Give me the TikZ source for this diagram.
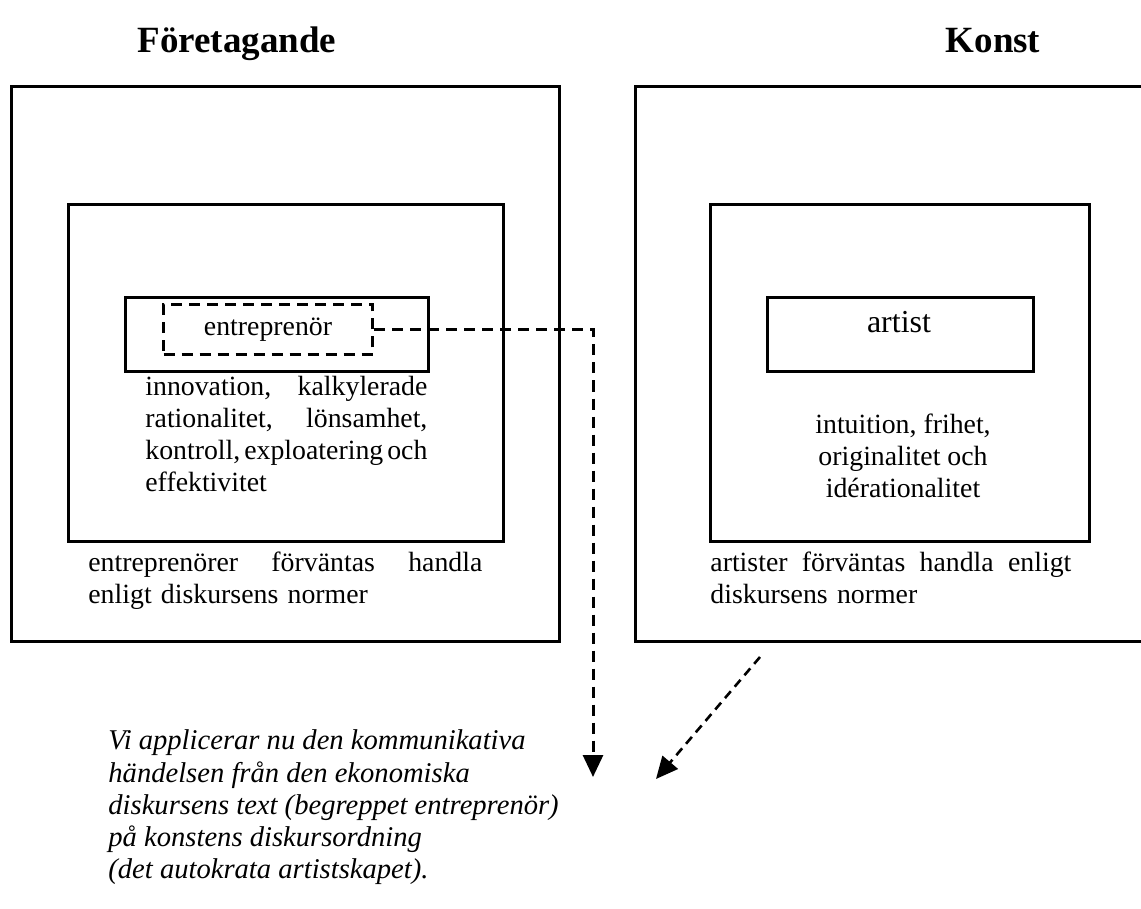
\documentclass[tikz,border=0pt]{standalone}
\usepackage{fontspec}
\setmainfont{Liberation Serif}
\usetikzlibrary{arrows.meta}
\begin{document}
\begin{tikzpicture}[x=0.5pt,y=-0.5pt,
  box/.style={draw, line width=1.6pt, inner sep=0pt, anchor=north west},
  dbox/.style={draw, line width=1.5pt, dash pattern=on 5.5pt off 3.5pt, inner sep=0pt, anchor=north west, font=\fontsize{13.9}{16}\selectfont},
  body/.style={font=\fontsize{13.9}{16}\selectfont, inner sep=0pt, anchor=north west},
  ttl/.style={font=\fontsize{18.5}{21}\selectfont\bfseries, inner sep=0pt, anchor=base},
  conn/.style={line width=1.5pt, dash pattern=on 5.5pt off 3.5pt, -{Triangle[length=11pt,width=10pt]}},
  diag/.style={line width=1.3pt, dash pattern=on 4.5pt off 3pt, -{Triangle[length=11pt,width=10pt]}}
]
\useasboundingbox (0,0) rectangle (1141,909);
\clip (0,0) rectangle (1141,909);

% titles
\node[ttl] (tf) at (237,53) {Företagande};
\node[ttl] (tk) at (993,53) {Konst};

% left (Företagande)
\node[box, minimum width=274pt, minimum height=277.5pt] (LO) at (10,85) {};
\node[box, minimum width=217.5pt, minimum height=168.5pt] (LI) at (67,203) {};
\node[box, minimum width=151.5pt, minimum height=37pt] (LS) at (124,296) {};
\node[dbox, minimum width=104.5pt, minimum height=25pt] (LD) at (162,303) {entreprenör};
\node[body, text width=141pt, align=left] (Ltxt) at (145,373)
  {\strut innovation,\hfill kalkylerade\\
   rationalitet,\hfill lönsamhet,\\
   \leavevmode\hbox to 141pt{kontroll,\hskip 2pt plus 1fil minus 2pt exploatering\hskip 2pt plus 1fil minus 2pt och}\\
   effektivitet};
\node[body, text width=197pt, align=left] (Lnorm) at (88,549)
  {\strut entreprenörer\hfill förväntas\hfill handla\\
   enligt diskursens normer};

% right (Konst)
\node[box, minimum width=268pt, minimum height=277.5pt] (RO) at (634,85) {};
\node[box, minimum width=189.5pt, minimum height=168.5pt] (RI) at (709,203) {};
\node[box, minimum width=133pt, minimum height=37pt] (RS) at (766,296) {};
\node[font=\fontsize{16}{19}\selectfont, inner sep=0pt, anchor=base] (art) at (899,333) {artist};
\node[body, anchor=north, align=center] (Rtxt) at (903,411)
  {\strut intuition, frihet,\\
   originalitet och\\
   idérationalitet};
\node[body, text width=180.5pt, align=left] (Rnorm) at (710,549)
  {\strut artister\hfill förväntas\hfill handla\hfill enligt\\
   diskursens normer};

% bottom italic text
\node[body, align=left, font=\fontsize{14.3}{16.1}\selectfont\itshape] (note) at (108,727)
  {\strut Vi applicerar nu den kommunikativa\\
   händelsen från den ekonomiska\\
   diskursens text (begreppet entreprenör)\\
   på konstens diskursordning\\
   (det autokrata artistskapet).};

% connectors
\coordinate (tip1) at (593,777);
\draw[conn] (LD.east) -| (tip1);
\coordinate (d0) at (760,657);
\coordinate (d1) at (656,779);
\draw[diag] (d0) -- (d1);
\end{tikzpicture}
\end{document}
